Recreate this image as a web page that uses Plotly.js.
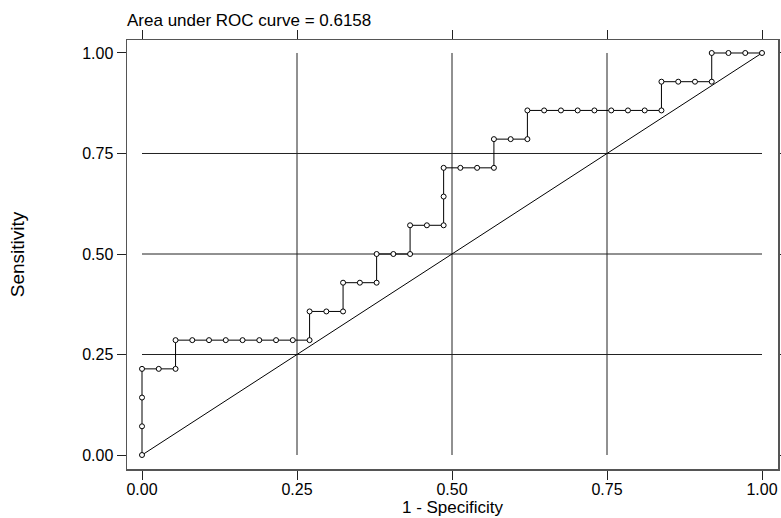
<!DOCTYPE html>
<html>
<head>
<meta charset="utf-8">
<script src="https://cdn.plot.ly/plotly-3.0.1.min.js"></script>
<style>html,body{margin:0;padding:0;background:#fff}#chart{width:781px;height:518px}</style>
</head>
<body>
<div id="chart"></div>
<script>
// ROC points: 1 - Specificity (x) and Sensitivity (y)
var oneMinusSpec = [0, 0, 0, 0, 0.0270, 0.0541, 0.0541, 0.0811, 0.1081, 0.1351, 0.1622, 0.1892, 0.2162, 0.2432, 0.2703,
  0.2703, 0.2973, 0.3243, 0.3243, 0.3514, 0.3784, 0.3784, 0.4054, 0.4324, 0.4324, 0.4595, 0.4865, 0.4865, 0.4865,
  0.5135, 0.5405, 0.5676, 0.5676, 0.5946, 0.6216, 0.6216, 0.6486, 0.6757, 0.7027, 0.7297, 0.7568, 0.7838, 0.8108,
  0.8378, 0.8378, 0.8649, 0.8919, 0.9189, 0.9189, 0.9459, 0.9730, 1];
var sensitivity = [0, 0.0714, 0.1429, 0.2143, 0.2143, 0.2143, 0.2857, 0.2857, 0.2857, 0.2857, 0.2857, 0.2857, 0.2857, 0.2857, 0.2857,
  0.3571, 0.3571, 0.3571, 0.4286, 0.4286, 0.4286, 0.5, 0.5, 0.5, 0.5714, 0.5714, 0.5714, 0.6429, 0.7143,
  0.7143, 0.7143, 0.7143, 0.7857, 0.7857, 0.7857, 0.8571, 0.8571, 0.8571, 0.8571, 0.8571, 0.8571, 0.8571, 0.8571,
  0.8571, 0.9286, 0.9286, 0.9286, 0.9286, 1, 1, 1, 1];
var refX = [0, 1];
var refY = [0, 1];
var tickVals = [0, 0.25, 0.5, 0.75, 1];
var tickText = ["0.00", "0.25", "0.50", "0.75", "1.00"];
var gridVals = [0.25, 0.5, 0.75];
var aucText = "Area under ROC curve = 0.6158";

var FONT = "Liberation Sans, Arial, Helvetica, sans-serif";

var shapes = [];
gridVals.forEach(function (v) {
  shapes.push({type: "line", xref: "x", yref: "y", x0: v, x1: v, y0: 0, y1: 1, layer: "below",
    line: {color: "#222", width: 1}});
  shapes.push({type: "line", xref: "x", yref: "y", x0: 0, x1: 1, y0: v, y1: v, layer: "below",
    line: {color: "#222", width: 1}});
});

var traces = [
  {x: refX, y: refY, type: "scatter", mode: "lines", line: {color: "#000", width: 1}, hoverinfo: "skip"},
  {x: oneMinusSpec, y: sensitivity, type: "scatter", mode: "lines+markers",
    line: {color: "#000", width: 1},
    marker: {symbol: "circle", size: 5, color: "#fff", line: {color: "#000", width: 1}}}
];

var axisCommon = {
  showgrid: false, zeroline: false, showline: true, mirror: "ticks",
  linecolor: "#555", linewidth: 1.5,
  ticks: "outside", ticklen: 9, tickcolor: "#222", tickwidth: 1,
  tickvals: tickVals, ticktext: tickText,
  tickfont: {family: FONT, size: 16, color: "#000"}
};

var layout = {
  width: 781, height: 518,
  margin: {l: 127, r: 3, t: 40, b: 49},
  paper_bgcolor: "#fff", plot_bgcolor: "#fff",
  showlegend: false,
  title: {text: aucText, font: {family: FONT, size: 17, color: "#000"},
    xref: "paper", x: 0, xanchor: "left", yref: "container", y: 0.961, yanchor: "middle"},
  xaxis: Object.assign({}, axisCommon, {range: [-0.0242, 1.0258], ticklabelstandoff: -4,
    title: {text: "1 - Specificity", font: {family: FONT, size: 17, color: "#000"}, standoff: 3}}),
  yaxis: Object.assign({}, axisCommon, {range: [-0.0348, 1.0323],
    title: {text: "Sensitivity", font: {family: FONT, size: 19, color: "#000"}, standoff: 52}}),
  shapes: shapes
};

Plotly.newPlot("chart", traces, layout, {staticPlot: true, displayModeBar: false});
</script>
</body>
</html>
